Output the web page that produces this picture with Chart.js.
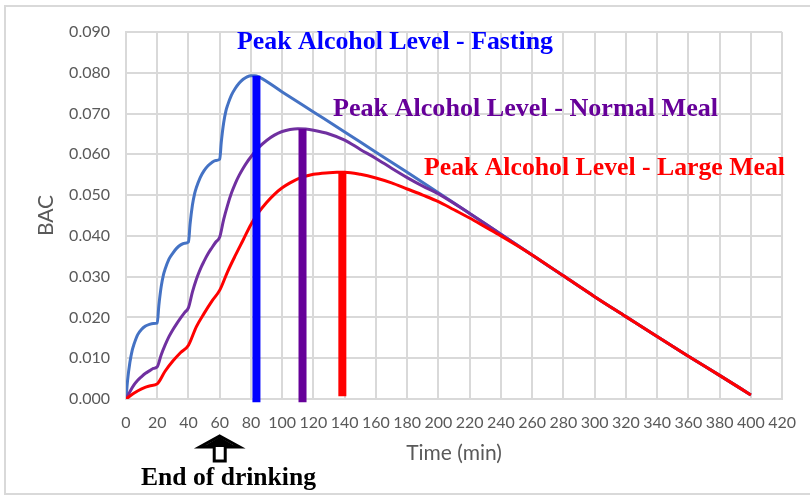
<!DOCTYPE html>
<html>
<head>
<meta charset="utf-8">
<script src="https://cdn.jsdelivr.net/npm/chart.js@4.4.1/dist/chart.umd.min.js"></script>
<style>
  html, body { margin: 0; padding: 0; background: #fff; overflow: hidden; }
  #frame { position: absolute; left: 4px; top: 5px; width: 830px; height: 486px; border: 2px solid #d9d9d9; }
  #bac { position: absolute; left: 0; top: 0; }
</style>
</head>
<body>
<div id="frame"></div>
<canvas id="bac" width="810" height="496"></canvas>
<script>
/* BAC over time after four drinks, fasting vs. normal meal vs. large meal. */

var X_TICKS = [0, 20, 40, 60, 80, 100, 120, 140, 160, 180, 200, 220, 240, 260, 280, 300, 320, 340, 360, 380, 400, 420];
var Y_TICKS = [0, 0.01, 0.02, 0.03, 0.04, 0.05, 0.06, 0.07, 0.08, 0.09];

// Fasting (blue)
var fastingT = [0, 1, 2.5, 4, 5, 7.5, 10, 12.5, 15, 17.5, 20,
  21, 22.5, 24, 25, 27.5, 30, 32.5, 35, 37.5, 40,
  41, 42.5, 44, 45, 47.5, 50, 52.5, 55, 57.5, 60,
  61, 62.5, 64, 65, 67.5, 70, 72.5, 75, 77.5, 80, 82.5, 85,
  100, 120, 140, 160, 180, 200, 220, 240, 260, 280, 300, 320, 340, 360, 380, 400];
var fastingBAC = [0, 0.0045, 0.0090, 0.0120, 0.0133, 0.0158, 0.0171, 0.0179, 0.0183, 0.0185, 0.0186,
  0.0228, 0.0275, 0.0305, 0.0318, 0.0343, 0.0358, 0.0370, 0.0378, 0.0382, 0.0385,
  0.0428, 0.0475, 0.0505, 0.0518, 0.0543, 0.0560, 0.0572, 0.0580, 0.0585, 0.0588,
  0.0630, 0.0677, 0.0707, 0.0720, 0.0745, 0.0762, 0.0775, 0.0784, 0.0790, 0.0793, 0.0793, 0.0790,
  0.0753, 0.0704, 0.0655, 0.0605, 0.0556, 0.0506, 0.0455, 0.0404, 0.0353, 0.0302, 0.0251, 0.0202, 0.0153, 0.0105, 0.0058, 0.0010];

// Normal meal (purple)
var normalT = [0, 2.5, 5, 7.5, 10, 12.5, 15, 17.5, 20,
  22.5, 25, 27.5, 30, 32.5, 35, 37.5, 40,
  42.5, 45, 47.5, 50, 52.5, 55, 57.5, 60,
  62.5, 65, 67.5, 70, 72.5, 75, 77.5, 80,
  85, 90, 95, 100, 105, 110, 115, 120, 130, 140, 150, 160, 170, 180, 190, 200,
  220, 240, 260, 280, 300, 320, 340, 360, 380, 400];
var normalBAC = [0, 0.0018, 0.0034, 0.0046, 0.0055, 0.0063, 0.0069, 0.0075, 0.0079,
  0.0108, 0.0132, 0.0153, 0.0170, 0.0185, 0.0199, 0.0212, 0.0224,
  0.0262, 0.0293, 0.0318, 0.0338, 0.0356, 0.0371, 0.0385, 0.0397,
  0.0440, 0.0475, 0.0505, 0.0529, 0.0549, 0.0566, 0.0581, 0.0594,
  0.0617, 0.0634, 0.0647, 0.0656, 0.0661, 0.0663, 0.0662, 0.0659, 0.0650, 0.0635, 0.0612, 0.0590, 0.0566, 0.0543, 0.0522, 0.0503,
  0.0455, 0.0404, 0.0353, 0.0302, 0.0251, 0.0202, 0.0153, 0.0105, 0.0058, 0.0010];

// Large meal (red)
var largeT = [0, 5, 10, 15, 20, 25, 30, 35, 40, 45, 50, 55, 60, 65, 70, 75, 80,
  85, 90, 95, 100, 105, 110, 120, 130, 135, 140, 150, 160, 170, 180, 190, 200,
  210, 220, 230, 240, 250, 260, 280, 300, 320, 340, 360, 380, 400];
var largeBAC = [0, 0.0014, 0.0025, 0.0032, 0.0037, 0.0068, 0.0093, 0.0114, 0.0132, 0.0177, 0.0210, 0.0240, 0.0267,
  0.0312, 0.0352, 0.0390, 0.0428,
  0.0458, 0.0482, 0.0502, 0.0518, 0.0530, 0.0540, 0.0551, 0.0555, 0.0556, 0.0556, 0.0551, 0.0542, 0.0530, 0.0515, 0.0500, 0.0484,
  0.0464, 0.0444, 0.0422, 0.0400, 0.0377, 0.0353, 0.0302, 0.0251, 0.0202, 0.0153, 0.0105, 0.0058, 0.0010];

// Peak markers: time of peak, top and foot of each bar
var peakT = [83.5, 113, 138.5];
var peakTop = [0.0793, 0.0662, 0.0556];
var peakFoot = [-0.0008, -0.0008, 0.0007];

var NOTES = [
  { text: "Peak Alcohol Level - Fasting", color: "#0000ff", left: 237, right: 553, base: 49 },
  { text: "Peak Alcohol Level - Normal Meal", color: "#660099", left: 333, right: 718, base: 116 },
  { text: "Peak Alcohol Level - Large Meal", color: "#ff0000", left: 424, right: 785, base: 175 },
  { text: "End of drinking", color: "#000000", left: 141, right: 316, base: 485 }
];

function pts(t, v) {
  return t.map(function (x, i) { return { x: x, y: v[i] }; });
}

function curve(label, t, v, color, order) {
  return {
    label: label, data: pts(t, v), borderColor: color, backgroundColor: color,
    borderWidth: 3, pointRadius: 0, cubicInterpolationMode: "monotone", order: order
  };
}

function bar(i, color, w) {
  return {
    label: "peak" + i,
    data: [{ x: peakT[i], y: peakTop[i] }, { x: peakT[i], y: peakFoot[i] }],
    borderColor: color, backgroundColor: color, borderWidth: w, borderCapStyle: "butt",
    pointRadius: 0, tension: 0, clip: false, order: 0
  };
}

function fitFont(ctx, text, width) {
  ctx.font = "bold 20px 'Liberation Serif'";
  var size = 20 * width / ctx.measureText(text).width;
  ctx.font = "bold " + size.toFixed(2) + "px 'Liberation Serif'";
}

var notesPlugin = {
  id: "notes",
  afterDraw: function (chart) {
    var ctx = chart.ctx;
    ctx.save();
    ctx.textAlign = "left";
    ctx.textBaseline = "alphabetic";
    NOTES.forEach(function (n) {
      fitFont(ctx, n.text, n.right - n.left);
      ctx.fillStyle = n.color;
      ctx.fillText(n.text, n.left, n.base);
    });

    // hollow up-arrow under the 60 min tick
    var cx = chart.scales.x.getPixelForValue(60);
    ctx.beginPath();
    ctx.moveTo(cx, 436);
    ctx.lineTo(cx + 20, 447);
    ctx.lineTo(cx + 5.5, 447);
    ctx.lineTo(cx + 5.5, 461);
    ctx.lineTo(cx - 5.5, 461);
    ctx.lineTo(cx - 5.5, 447);
    ctx.lineTo(cx - 20, 447);
    ctx.closePath();
    ctx.fillStyle = "#ffffff";
    ctx.fill();
    ctx.lineWidth = 3;
    ctx.lineJoin = "miter";
    ctx.strokeStyle = "#000000";
    ctx.stroke();
    ctx.beginPath();
    ctx.moveTo(cx, 437);
    ctx.lineTo(cx + 17, 447);
    ctx.lineTo(cx - 17, 447);
    ctx.closePath();
    ctx.fillStyle = "#000000";
    ctx.fill();
    ctx.restore();
  }
};

var tickFont = { family: "Lato", size: 16 };
var titleFont = { family: "Lato", size: 21 };
var GRID = "#d9d9d9";
var TXT = "#595959";

new Chart(document.getElementById("bac"), {
  type: "line",
  data: {
    datasets: [
      bar(0, "#0000ff", 8),
      bar(1, "#660099", 8),
      bar(2, "#ff0000", 8),
      curve("Large meal", largeT, largeBAC, "#ff0000", 1),
      curve("Normal meal", normalT, normalBAC, "#7030a0", 2),
      curve("Fasting", fastingT, fastingBAC, "#4472c4", 3)
    ]
  },
  options: {
    responsive: false,
    animation: false,
    layout: { padding: { left: 34, top: 32, right: 25, bottom: 30 } },
    plugins: { legend: { display: false }, tooltip: { enabled: false } },
    scales: {
      x: {
        type: "linear", min: 0, max: 420,
        afterBuildTicks: function (s) { s.ticks = X_TICKS.map(function (v) { return { value: v }; }); },
        afterFit: function (s) { s.height = 67; },
        grid: { color: GRID, lineWidth: 2, drawTicks: false },
        border: { color: GRID, width: 2 },
        ticks: { color: TXT, font: tickFont, padding: 14, autoSkip: false, maxRotation: 0,
          callback: function (v) { return String(v); } },
        title: { display: true, text: "Time (min)", color: TXT, font: titleFont, padding: 0 }
      },
      y: {
        min: 0, max: 0.09,
        afterBuildTicks: function (s) { s.ticks = Y_TICKS.map(function (v) { return { value: v }; }); },
        afterFit: function (s) { s.width = 92; },
        grid: { color: GRID, lineWidth: 2, drawTicks: false },
        border: { color: GRID, width: 2 },
        ticks: { color: TXT, font: tickFont, padding: 16,
          callback: function (v) { return v.toFixed(3); } },
        title: { display: true, text: "BAC", color: TXT, font: titleFont, padding: 0 }
      }
    }
  },
  plugins: [notesPlugin]
});
</script>
</body>
</html>
